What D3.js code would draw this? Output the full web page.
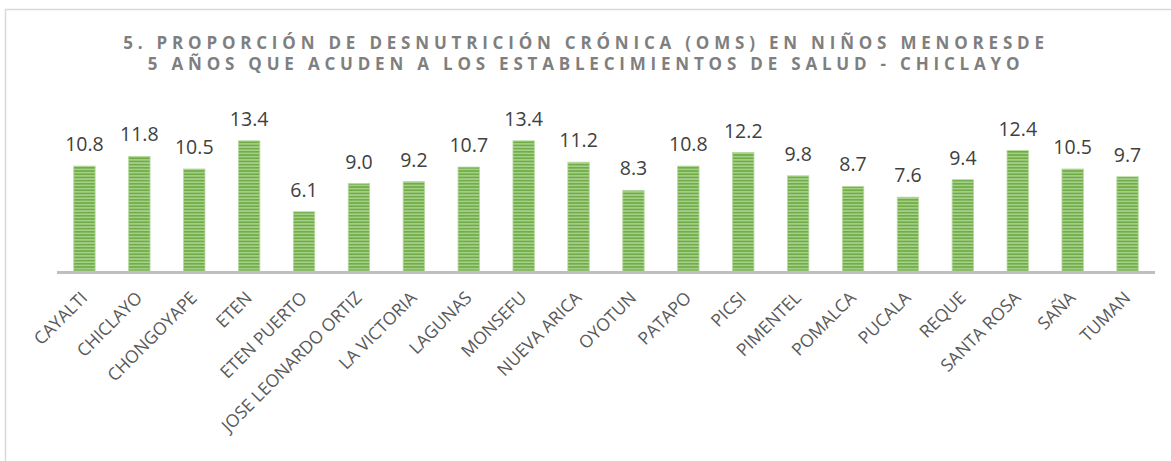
<!DOCTYPE html>
<html>
<head>
<meta charset="utf-8">
<script src="https://cdn.jsdelivr.net/npm/d3@7"></script>
<style>
  body { margin: 0; background: #fff; }
  text { font-family: "Open Sans", Calibri, sans-serif; }
</style>
</head>
<body>
<script>
// datos del grafico
var distritos = ["CAYALTI", "CHICLAYO", "CHONGOYAPE", "ETEN", "ETEN PUERTO", "JOSE LEONARDO ORTIZ",
  "LA VICTORIA", "LAGUNAS", "MONSEFU", "NUEVA ARICA", "OYOTUN", "PATAPO", "PICSI", "PIMENTEL",
  "POMALCA", "PUCALA", "REQUE", "SANTA ROSA", "SAÑA", "TUMAN"];
var valores = [10.8, 11.8, 10.5, 13.4, 6.1, 9.0, 9.2, 10.7, 13.4, 11.2, 8.3, 10.8, 12.2, 9.8,
  8.7, 7.6, 9.4, 12.4, 10.5, 9.7];
var titulo = ["5. PROPORCIÓN DE DESNUTRICIÓN CRÓNICA (OMS) EN NIÑOS MENORESDE",
  "5 AÑOS QUE ACUDEN A LOS ESTABLECIMIENTOS DE SALUD - CHICLAYO"];

var W = 1171, H = 461;
var margin = {top: 135, right: 16, bottom: 190, left: 57},
    width = W - margin.left - margin.right,
    height = H - margin.top - margin.bottom;

var svg = d3.select("body").append("svg")
    .attr("width", W)
    .attr("height", H);

// patron de rayas horizontales
var pat = svg.append("defs").append("pattern")
    .attr("id", "rayas")
    .attr("patternUnits", "userSpaceOnUse")
    .attr("width", 4).attr("height", 3.2);
pat.append("rect").attr("width", 4).attr("height", 3.2).attr("fill", "#a9d18e");
pat.append("rect").attr("width", 4).attr("height", 1.7).attr("fill", "#70ad47");

// marco
svg.append("path")
    .attr("d", "M5.5," + H + "V9.5H" + W)
    .attr("fill", "none")
    .attr("stroke", "#d9d9d9")
    .attr("stroke-width", 1.5);

// titulo
svg.selectAll(".titulo")
    .data(titulo)
    .enter()
    .append("text")
    .attr("class", "titulo")
    .attr("x", 586)
    .attr("y", function(d, i){ return 49 + i * 21; })
    .attr("text-anchor", "middle")
    .attr("font-size", 17)
    .attr("font-weight", "bold")
    .attr("letter-spacing", 4.8)
    .attr("fill", "#7f7f7f")
    .text(function(d){ return d; });

var g = svg.append("g")
    .attr("transform", "translate(" + margin.left + "," + margin.top + ")");

var x = d3.scaleBand().domain(distritos).range([0, width]).paddingInner(0.61).paddingOuter(0.305);
var y = d3.scaleLinear().domain([0, 14]).range([height, 0]);

g.selectAll(".bar")
    .data(valores)
    .enter()
    .append("rect")
    .attr("class", "bar")
    .attr("x", function(d, i){ return x(distritos[i]); })
    .attr("y", function(d){ return y(d); })
    .attr("width", x.bandwidth())
    .attr("height", function(d){ return height - y(d); })
    .attr("fill", "url(#rayas)")
    .attr("stroke", "#b5d99c")
    .attr("stroke-width", 0.8);

g.selectAll(".valor")
    .data(valores)
    .enter()
    .append("text")
    .attr("class", "valor")
    .attr("x", function(d, i){ return x(distritos[i]) + x.bandwidth() / 2; })
    .attr("y", function(d){ return y(d) - 15; })
    .attr("text-anchor", "middle")
    .attr("font-size", 19.5)
    .attr("fill", "#404040")
    .text(function(d){ return d.toFixed(1); });

// eje x
var eje = g.append("g")
    .attr("transform", "translate(0," + height + ")")
    .call(d3.axisBottom(x).tickSize(0).tickPadding(0));
eje.select(".domain")
    .attr("stroke", "#bfbfbf")
    .attr("stroke-width", 3)
    .attr("d", "M0,1.5H" + width);
eje.selectAll(".tick text")
    .attr("font-size", 17.5)
    .attr("fill", "#595959")
    .attr("text-anchor", "end")
    .attr("dy", 0)
    .attr("transform", "translate(4,28) rotate(-45)");
</script>
</body>
</html>
